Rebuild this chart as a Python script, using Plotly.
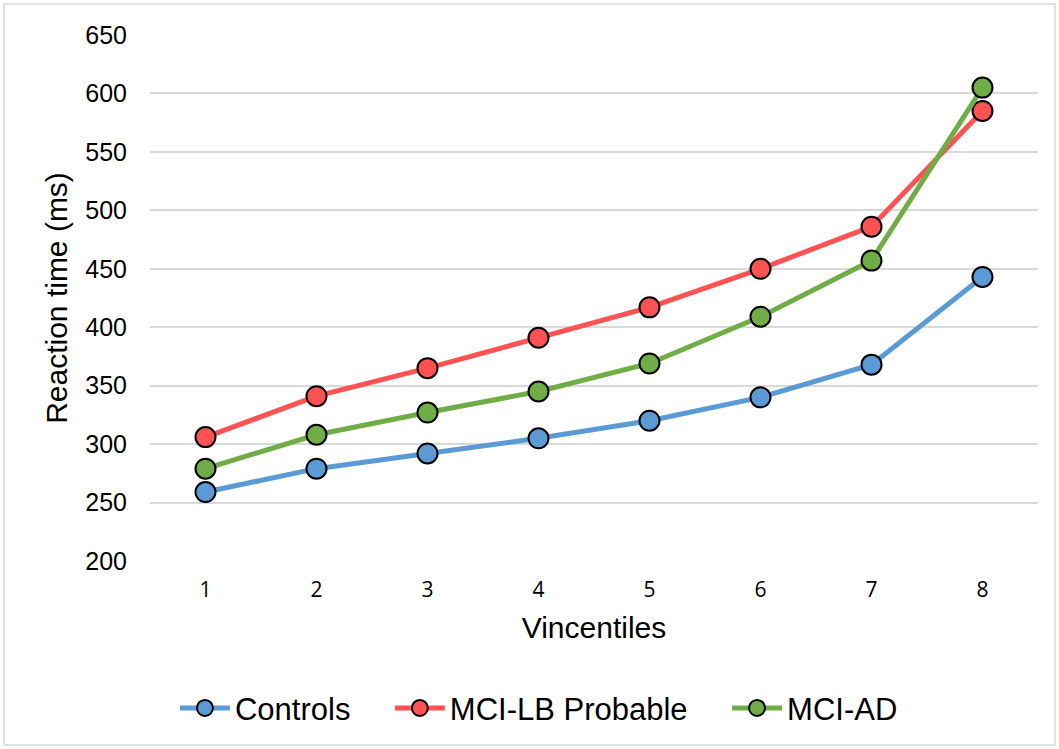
import plotly.graph_objects as go

categories = [1, 2, 3, 4, 5, 6, 7, 8]
controls = [259, 279, 292, 305, 320, 340, 368, 443]
mci_lb = [306, 341, 365, 391, 417, 450, 486, 585]
mci_ad = [279, 308, 327, 345, 369, 409, 457, 605]

NB = "\u00a0"
series = [
    ("Controls", controls, "#5B9BD5", NB * 4),
    ("MCI-LB Probable", mci_lb, "#FF5252", NB * 4),
    ("MCI-AD", mci_ad, "#70AD47", ""),
]

W, H = 1059, 749
L, R, T, B = 150, 21, 35, 188

fig = go.Figure()
for name, vals, col, pad in series:
    fig.add_trace(go.Scatter(
        x=categories, y=vals, name=name + pad, mode="lines+markers",
        line=dict(color=col, width=5),
        marker=dict(size=20, color=col, line=dict(color="black", width=2)),
    ))

pw = W - L - R
ph = H - T - B
fig.add_shape(type="rect", xref="paper", yref="paper",
              x0=(4 - L) / pw, x1=(W - 4 - L) / pw,
              y0=-(H - 4 - T - ph) / ph, y1=1 + (T - 4) / ph,
              line=dict(color="#D9D9D9", width=1.5), layer="below")

fig.update_layout(
    width=W, height=H,
    margin=dict(l=L, r=R, t=T, b=B),
    paper_bgcolor="white", plot_bgcolor="white",
    font=dict(family="Liberation Sans, Arial", color="black"),
    showlegend=True,
    legend=dict(orientation="h", x=0.438, xanchor="center", y=-0.28, yanchor="middle",
                font=dict(size=31, family="Liberation Sans, Arial"),
                itemwidth=50, traceorder="normal"),
    xaxis=dict(range=[0.5, 8.5], tickmode="array", tickvals=categories,
               ticktext=[str(c) for c in categories],
               showgrid=False, zeroline=False, showline=False,
               tickfont=dict(size=21, family="Open Sans"), ticks="",
               ticklabelstandoff=14,
               title=dict(text="Vincentiles", font=dict(size=30), standoff=14)),
    yaxis=dict(range=[200, 650], dtick=50, showgrid=True, gridcolor="#D9D9D9", gridwidth=1.5,
               zeroline=False, showline=False, ticks="",
               tickfont=dict(size=25), ticklabelstandoff=22,
               title=dict(text="Reaction time (ms)", font=dict(size=30), standoff=8)),
)

fig.write_html("out.html")
